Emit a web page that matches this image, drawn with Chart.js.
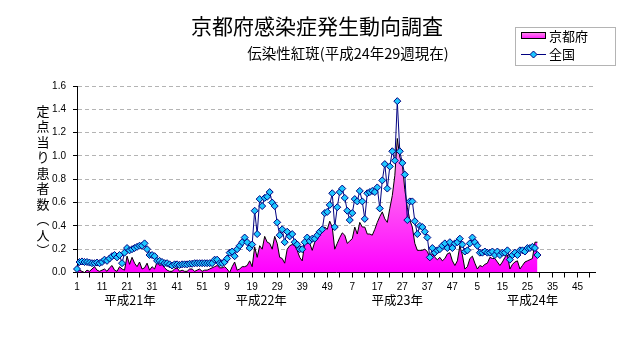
<!DOCTYPE html>
<html>
<head>
<meta charset="utf-8">
<script src="https://cdn.jsdelivr.net/npm/chart.js@4.4.1/dist/chart.umd.min.js"></script>
<style>
  html, body { margin: 0; padding: 0; background: #fff; }
</style>
</head>
<body>
<canvas id="chart" width="632" height="348"></canvas>
<script>
const chartTitle = '京都府感染症発生動向調査';
const chartSubtitle = '伝染性紅斑(平成24年29週現在)';
const yAxisTitle = ['定', '点', '当', 'り', '患', '者', '数', '︵', '人', '︶'];
const yearNames = ['平成21年', '平成22年', '平成23年', '平成24年'];
const yTicks = [0, 0.2, 0.4, 0.6, 0.8, 1.0, 1.2, 1.4, 1.6];

// week numbers 1..52 for each year on the axis
let weekLabels = [];
for (let y = 0; y < yearNames.length; y++) {
    for (let w = 1; w <= 52; w++) {
        weekLabels.push(String(w));
    }
}

// 京都府 (per sentinel), by year
const kyoto2009 = [0.01, 0.02, 0.01, 0.0, 0.02, 0.01, 0.03, 0.05, 0.02, 0.01, 0.02, 0.03, 0.01, 0.04, 0.06, 0.02, 0.01, 0.05, 0.03, 0.02,
    0.14, 0.07, 0.13, 0.08, 0.05, 0.09, 0.03, 0.04, 0.08, 0.02, 0.05, 0.03, 0.09, 0.06, 0.07, 0.04, 0.02, 0.01, 0.01, 0.03,
    0.04, 0.01, 0.02, 0.01, 0.01, 0.03, 0.03, 0.01, 0.02, 0.03, 0.01, 0.02];
const kyoto2010 = [0.02, 0.03, 0.04, 0.05, 0.06, 0.04, 0.04, 0.05, 0.03, 0.0, 0.05, 0.09, 0.02, 0.03, 0.05, 0.05, 0.06, 0.10, 0.05, 0.22,
    0.13, 0.23, 0.20, 0.31, 0.26, 0.25, 0.20, 0.31, 0.25, 0.13, 0.12, 0.08, 0.20, 0.23, 0.24, 0.23, 0.19, 0.13, 0.10, 0.25,
    0.25, 0.25, 0.19, 0.26, 0.29, 0.32, 0.34, 0.39, 0.37, 0.44, 0.39, 0.20];
const kyoto2011 = [0.25, 0.30, 0.34, 0.32, 0.25, 0.27, 0.29, 0.39, 0.33, 0.43, 0.39, 0.39, 0.33, 0.33, 0.32, 0.37, 0.43, 0.48, 0.52, 0.46,
    0.43, 0.55, 0.66, 0.83, 1.15, 0.99, 0.93, 0.71, 0.56, 0.45, 0.39, 0.25, 0.19, 0.19, 0.19, 0.20, 0.18, 0.13, 0.16, 0.13,
    0.11, 0.13, 0.10, 0.12, 0.16, 0.17, 0.10, 0.06, 0.10, 0.23, 0.15, 0.03];
const kyoto2012 = [0.05, 0.12, 0.14, 0.08, 0.03, 0.06, 0.05, 0.07, 0.08, 0.13, 0.12, 0.12, 0.09, 0.06, 0.09, 0.13, 0.15, 0.03, 0.07, 0.09,
    0.10, 0.03, 0.06, 0.09, 0.10, 0.11, 0.12, 0.26, 0.26];

// 全国, by year
const zenkoku2009 = [0.03, 0.09, 0.095, 0.09, 0.09, 0.085, 0.08, 0.08, 0.085, 0.08, 0.09, 0.11, 0.10, 0.12, 0.14, 0.15, 0.13, 0.15, 0.08, 0.17,
    0.21, 0.19, 0.20, 0.21, 0.22, 0.23, 0.23, 0.25, 0.20, 0.15, 0.15, 0.14, 0.10, 0.10, 0.09, 0.08, 0.08, 0.07, 0.06, 0.07,
    0.07, 0.065, 0.07, 0.07, 0.07, 0.075, 0.075, 0.08, 0.08, 0.08, 0.08, 0.08];
const zenkoku2010 = [0.08, 0.08, 0.08, 0.11, 0.11, 0.08, 0.08, 0.09, 0.12, 0.17, 0.18, 0.14, 0.20, 0.23, 0.26, 0.30, 0.26, 0.21, 0.24, 0.53,
    0.33, 0.63, 0.57, 0.64, 0.65, 0.69, 0.60, 0.57, 0.43, 0.32, 0.37, 0.26, 0.35, 0.31, 0.33, 0.26, 0.24, 0.20, 0.20, 0.26,
    0.30, 0.27, 0.29, 0.29, 0.32, 0.35, 0.37, 0.51, 0.52, 0.58, 0.68, 0.39];
const zenkoku2011 = [0.56, 0.69, 0.72, 0.64, 0.53, 0.45, 0.51, 0.63, 0.61, 0.70, 0.61, 0.46, 0.68, 0.69, 0.70, 0.69, 0.73, 0.55, 0.79, 0.93,
    0.72, 0.91, 1.04, 0.96, 1.47, 1.04, 0.94, 0.84, 0.45, 0.61, 0.61, 0.44, 0.33, 0.40, 0.39, 0.35, 0.30, 0.13, 0.21, 0.17,
    0.19, 0.20, 0.23, 0.25, 0.21, 0.26, 0.21, 0.25, 0.26, 0.29, 0.24, 0.18];
const zenkoku2012 = [0.19, 0.25, 0.30, 0.26, 0.23, 0.17, 0.17, 0.18, 0.17, 0.17, 0.18, 0.15, 0.18, 0.15, 0.17, 0.17, 0.19, 0.11, 0.15, 0.17,
    0.15, 0.19, 0.19, 0.18, 0.21, 0.21, 0.22, 0.21, 0.15];

const kyoto = kyoto2009.concat(kyoto2010, kyoto2011, kyoto2012);
const zenkoku = zenkoku2009.concat(zenkoku2010, zenkoku2011, zenkoku2012);

const jpFont = '"Noto Sans CJK JP", "Noto Sans", sans-serif';

function pinkGradient(ctx, top, bottom) {
    let g = ctx.createLinearGradient(0, top, 0, bottom);
    g.addColorStop(0, '#ffa6ea');
    g.addColorStop(1, '#ff00ff');
    return g;
}

// titles, vertical y title, year names and legend box
const decorPlugin = {
    id: 'decor',
    afterDraw(chart) {
        const c = chart.ctx;
        const x = chart.scales.x;
        c.save();
        c.fillStyle = '#000';
        c.textBaseline = 'middle';
        c.textAlign = 'center';
        c.font = '21px ' + jpFont;
        c.fillText(chartTitle, 317, 26);
        c.font = '14.5px ' + jpFont;
        c.fillText(chartSubtitle, 348, 53);

        c.font = '13px ' + jpFont;
        yAxisTitle.forEach(function(ch, i) {
            c.fillText(ch, 43, 111 + i * 15.5);
        });

        // year names under the week ticks
        const yearAt = [21.2, 73.6, 128, 182];
        c.font = '12.5px ' + jpFont;
        yearNames.forEach(function(name, i) {
            c.fillText(name, x.getPixelForValue(yearAt[i]), 300);
        });

        // legend
        c.strokeStyle = '#b4b4b4';
        c.lineWidth = 1;
        c.strokeRect(515.5, 27.5, 100, 38);
        c.fillStyle = pinkGradient(c, 31, 40);
        c.fillRect(521, 32, 25, 7);
        c.strokeStyle = '#000';
        c.strokeRect(521.5, 32.5, 24, 6);
        c.strokeStyle = '#000080';
        c.beginPath();
        c.moveTo(521, 54.5);
        c.lineTo(546, 54.5);
        c.stroke();
        c.fillStyle = '#1ec8ff';
        c.beginPath();
        c.moveTo(533.5, 51);
        c.lineTo(537, 54.5);
        c.lineTo(533.5, 58);
        c.lineTo(530, 54.5);
        c.closePath();
        c.fill();
        c.stroke();
        c.fillStyle = '#000';
        c.textAlign = 'left';
        c.font = '13px ' + jpFont;
        c.fillText(chart.data.datasets[1].label, 549, 36);
        c.fillText(chart.data.datasets[0].label, 549, 54);
        c.restore();
    }
};

new Chart(document.getElementById('chart'), {
    type: 'line',
    data: {
        labels: weekLabels,
        datasets: [{
            label: '全国',
            data: zenkoku,
            borderColor: '#000080',
            borderWidth: 1,
            pointStyle: 'rectRot',
            pointRadius: 3.5,
            pointBackgroundColor: '#1ec8ff',
            pointBorderColor: '#000080',
            pointBorderWidth: 1,
            tension: 0,
            fill: false,
            order: 1
        }, {
            label: '京都府',
            data: kyoto,
            borderColor: '#000',
            borderWidth: 1,
            pointRadius: 0,
            tension: 0,
            fill: 'origin',
            backgroundColor: function(context) {
                const chart = context.chart;
                if (!chart.chartArea) return '#ff00ff';
                return pinkGradient(chart.ctx, chart.scales.y.getPixelForValue(1.2), chart.chartArea.bottom);
            },
            order: 2
        }]
    },
    options: {
        responsive: false,
        animation: false,
        layout: {
            padding: { top: 86, right: 37, bottom: 0, left: 0 }
        },
        plugins: {
            legend: { display: false },
            tooltip: { enabled: false },
            title: { display: false }
        },
        scales: {
            x: {
                afterFit: function(scale) { scale.height = 75.5; },
                grid: {
                    display: true,
                    drawOnChartArea: false,
                    drawTicks: true,
                    tickLength: 5,
                    tickColor: '#000'
                },
                border: { color: '#000', width: 1 },
                ticks: {
                    autoSkip: false,
                    maxRotation: 0,
                    padding: 4,
                    color: '#000',
                    font: { family: 'Liberation Sans', size: 10 },
                    callback: function(val, idx) {
                        if (idx % 10 == 0) return weekLabels[idx];
                        if (idx % 5 == 0) return '';
                        return null;
                    }
                }
            },
            y: {
                min: 0,
                max: 1.6,
                afterFit: function(scale) { scale.width = 77; },
                afterBuildTicks: function(scale) {
                    scale.ticks = yTicks.map(function(v) { return { value: v }; });
                },
                grid: {
                    color: function(context) {
                        return context.tick && context.tick.value == 0 ? 'rgba(0,0,0,0)' : '#b4b4b4';
                    },
                    tickColor: '#000',
                    tickLength: 4
                },
                border: { color: '#000', width: 1, dash: [4, 3] },
                ticks: {
                    padding: 7,
                    color: '#000',
                    font: { family: 'Liberation Sans', size: 10 },
                    callback: function(v) { return Number(v).toFixed(1); }
                }
            }
        }
    },
    plugins: [decorPlugin]
});
</script>
</body>
</html>
